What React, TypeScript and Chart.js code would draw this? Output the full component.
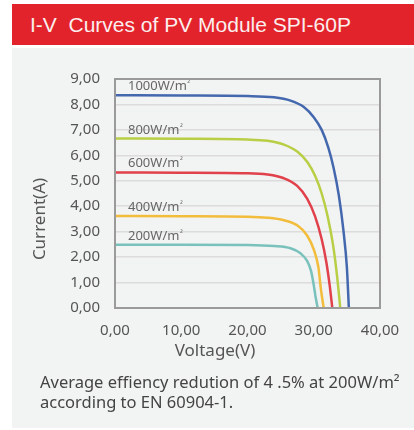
import React, { useEffect, useRef } from "react";
import { Chart, registerables } from "chart.js";

Chart.register(...registerables);

const curveLabels = ["1000W/m²", "800W/m²", "600W/m²", "400W/m²", "200W/m²"];
const curveColors = ["#4468ae", "#b8cf45", "#e0414b", "#f3bd3c", "#79c2bc"];

const v1000 = [0, 10, 20, 24, 26.5, 28.5, 30, 31.2, 32.2, 33, 33.8, 34.5, 35, 35.3];
const i1000 = [8.36, 8.35, 8.33, 8.28, 8.15, 7.9, 7.5, 7.0, 6.3, 5.5, 4.4, 3.0, 1.6, 0];
const v800 = [0, 10, 20, 23, 25.5, 27.5, 29, 30.2, 31.2, 32.1, 32.9, 33.5, 34.0];
const i800 = [6.66, 6.65, 6.62, 6.57, 6.42, 6.15, 5.75, 5.2, 4.5, 3.6, 2.5, 1.3, 0];
const v600 = [0, 10, 20, 23, 25.5, 27.5, 29, 30.2, 31.2, 31.9, 32.4, 32.8];
const i600 = [5.33, 5.32, 5.3, 5.25, 5.1, 4.8, 4.3, 3.6, 2.7, 1.8, 0.9, 0];
const v400 = [0, 10, 20, 23, 25.5, 27.5, 29, 30, 30.7, 31.1, 31.5];
const i400 = [3.62, 3.61, 3.59, 3.55, 3.45, 3.25, 2.85, 2.3, 1.6, 0.7, 0];
const v200 = [0, 10, 20, 24, 26.5, 28, 29, 29.6, 30.0, 30.3, 30.6];
const i200 = [2.49, 2.49, 2.48, 2.44, 2.35, 2.15, 1.85, 1.45, 0.9, 0.4, 0];

const voltages = [v1000, v800, v600, v400, v200];
const currents = [i1000, i800, i600, i400, i200];

const xTickLabels = ["0,00", "10,00", "20,00", "30,00", "40,00"];
const yTickLabels = ["0,00", "1,00", "2,00", "3,00", "4,00", "5,00", "6,00", "7,00", "8,00", "9,00"];

const titleText = "I-V  Curves of PV Module SPI-60P";
const xTitle = "Voltage(V)";
const yTitle = "Current(A)";
const noteLines = ["Average effiency redution of 4 .5% at 200W/m²", "according to EN 60904-1."];

const FONT = '"Noto Sans", sans-serif';

const framePlugin = {
  id: "frameAndLabels",
  afterDatasetsDraw(chart: any) {
    const { ctx, chartArea: a } = chart;
    ctx.save();
    ctx.fillStyle = "#666";
    ctx.textBaseline = "alphabetic";
    chart.data.datasets.forEach((ds: any) => {
      const y = chart.scales.y.getPixelForValue(ds.data[0].y);
      const label: string = ds.label;
      const base = label.endsWith("²") ? label.slice(0, -1) : label;
      const sup = label.endsWith("²") ? "²" : "";
      ctx.font = `13px ${FONT}`;
      const x0 = a.left + 13;
      ctx.fillText(base, x0, y - 5);
      const w = ctx.measureText(base).width;
      if (sup) {
        ctx.font = `8px ${FONT}`;
        ctx.fillText(sup, x0 + w + 0.5, y - 9);
      }
    });
    ctx.strokeStyle = "#9a9a9a";
    ctx.lineWidth = 2;
    ctx.strokeRect(a.left, a.top, a.right - a.left, a.bottom - a.top);
    ctx.restore();
  },
};

export default function App() {
  const ref = useRef<HTMLCanvasElement>(null);
  useEffect(() => {
    if (!ref.current) return;
    const datasets = curveLabels.map((label, k) => ({
      label,
      data: voltages[k].map((v, j) => ({ x: v, y: currents[k][j] })),
      borderColor: curveColors[k],
      backgroundColor: curveColors[k],
      borderWidth: 2.5,
      pointRadius: 0,
      fill: false,
      cubicInterpolationMode: "monotone" as const,
    }));
    const chart = new Chart(ref.current, {
      type: "line",
      data: { datasets },
      plugins: [framePlugin],
      options: {
        animation: false,
        responsive: false,
        layout: { padding: { top: 79, right: 34, left: 0, bottom: 0 } },
        plugins: { legend: { display: false }, tooltip: { enabled: false } },
        scales: {
          x: {
            type: "linear",
            min: 0,
            max: 40,
            afterFit: (s: any) => {
              s.height = 122;
            },
            ticks: {
              stepSize: 10,
              padding: 14,
              color: "#555",
              font: { family: FONT, size: 15 },
              callback: (_v: any, i: number) => xTickLabels[i],
            },
            grid: { display: false, drawTicks: false },
            border: { display: false },
          },
          y: {
            type: "linear",
            min: 0,
            max: 9,
            afterFit: (s: any) => {
              s.width = 115;
            },
            ticks: {
              stepSize: 1,
              padding: 15,
              color: "#555",
              font: { family: FONT, size: 15 },
              callback: (_v: any, i: number) => yTickLabels[i],
            },
            grid: { color: "#dcdcdc", lineWidth: 1.5, drawTicks: false },
            border: { display: false },
          },
        },
      },
    });
    return () => chart.destroy();
  }, []);

  return (
    <div
      style={{
        position: "fixed",
        left: 0,
        top: 0,
        width: 414,
        height: 430,
        background: "#fff",
        overflow: "hidden",
        fontFamily: FONT,
      }}
    >
      <div style={{ position: "absolute", left: 12, top: 48, width: 402, height: 380, background: "#f2f3f3" }} />
      <div
        style={{
          position: "absolute",
          left: 12,
          top: 4,
          width: 402,
          height: 41,
          background: "#e3232b",
          color: "#fbeeee",
          fontFamily: '"Liberation Sans", Arial, sans-serif',
          fontSize: 21,
          lineHeight: "41px",
          paddingLeft: 18,
          boxSizing: "border-box",
          whiteSpace: "pre",
        }}
      >
        {titleText}
      </div>
      <canvas ref={ref} width={414} height={430} style={{ position: "absolute", left: 0, top: 0 }} />
      <div
        style={{
          position: "absolute",
          left: -21,
          top: 208,
          width: 120,
          height: 22,
          lineHeight: "22px",
          textAlign: "center",
          fontSize: 17,
          color: "#555",
          transform: "rotate(-90deg)",
        }}
      >
        {yTitle}
      </div>
      <div
        style={{
          position: "absolute",
          left: 155,
          top: 339,
          width: 120,
          lineHeight: "22px",
          textAlign: "center",
          fontSize: 17,
          color: "#555",
        }}
      >
        {xTitle}
      </div>
      <div
        style={{
          position: "absolute",
          left: 40,
          top: 372,
          lineHeight: "20px",
          fontSize: 16.5,
          color: "#444",
          whiteSpace: "pre",
        }}
      >
        {noteLines.map((l, i) => (
          <div key={i}>{l}</div>
        ))}
      </div>
    </div>
  );
}
